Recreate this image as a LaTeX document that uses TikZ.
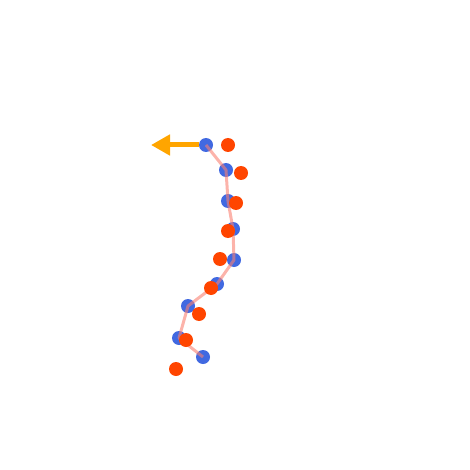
\documentclass[tikz,border=0pt]{standalone}
\usetikzlibrary{arrows.meta}

\definecolor{dotblue}{HTML}{4169E1}
\definecolor{dotred}{HTML}{FF4500}
\definecolor{pathpink}{HTML}{FA8072}
\definecolor{arroworange}{HTML}{FFA500}

\begin{document}
\begin{tikzpicture}[
    x=1pt, y=-1pt,
    bluedot/.style={circle, fill=dotblue, inner sep=0pt, minimum size=14pt},
    reddot/.style={circle, fill=dotred, inner sep=0pt, minimum size=14pt},
    trail/.style={pathpink, opacity=0.6, line width=3pt, line join=round},
    heading/.style={arroworange, line width=5pt, -{Triangle[length=19pt, width=20pt]}}
]
\useasboundingbox (0,0) rectangle (469,470);

% blue points
\foreach \i/\x/\y in {1/206/145, 2/226/170, 3/228/201, 4/233/229, 5/234/260,
                      6/217/284, 7/188/306, 8/179/338, 9/203/357}
    \node[bluedot] (b\i) at (\x,\y) {};

% path through the blue points
\draw[trail] (b1.center) -- (b2.center) -- (b3.center) -- (b4.center) -- (b5.center)
    -- (b6.center) -- (b7.center) -- (b8.center) -- (b9.center);

% red points
\foreach \i/\x/\y in {1/228/145, 2/241/173, 3/236/203, 4/228/231, 5/220/259,
                      6/211/288, 7/199/314, 8/186/340, 9/176/369}
    \node[reddot] (r\i) at (\x,\y) {};

% heading arrow
\coordinate (tip) at (151,145);
\draw[heading] (b1.west) -- (tip);

\end{tikzpicture}
\end{document}
